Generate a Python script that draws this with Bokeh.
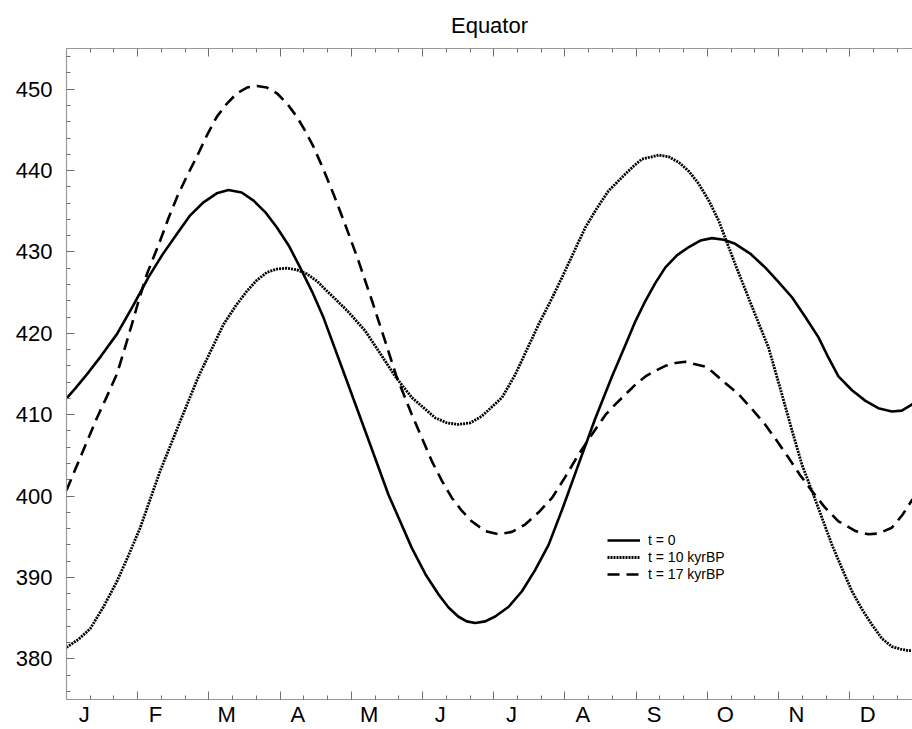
from bokeh.plotting import figure
from bokeh.models import (Range1d, LinearAxis, FixedTicker, CustomJSTickFormatter,
                          Legend, LegendItem)
from bokeh.embed import file_html
from bokeh.resources import INLINE

FONT = "Liberation Sans"

title_text = "Equator"

# Month labels (placed a quarter month after each month boundary)
month_labels = ["J", "F", "M", "A", "M", "J", "J", "A", "S", "O", "N", "D"]
month_label_pos = [0.25, 1.25, 2.25, 3.25, 4.25, 5.25, 6.25, 7.25, 8.25, 9.25, 10.25, 11.25]
month_bounds = [0, 1, 2, 3, 4, 5, 6, 7, 8, 9, 10, 11]
month_minor = [k + f for k in range(12) for f in (1 / 3, 2 / 3)]

y_major = [380, 390, 400, 410, 420, 430, 440, 450]
y_minor = [376, 378, 382, 384, 386, 388, 392, 394, 396, 398, 402, 404, 406, 408,
           412, 414, 416, 418, 422, 424, 426, 428, 432, 434, 436, 438, 442, 444,
           446, 448, 452, 454]

# t = 0 (solid)
m_t0 = [0.0, 0.13, 0.263, 0.485, 0.708, 0.93, 1.152, 1.35, 1.55, 1.737, 1.924,
        2.11, 2.275, 2.46, 2.627, 2.79, 2.955, 3.12, 3.28, 3.45, 3.61, 3.914, 4.195,
        4.52, 4.85, 5.04, 5.225, 5.365, 5.5, 5.62, 5.74, 5.88, 6.02, 6.21, 6.396,
        6.58, 6.77, 6.98, 7.19, 7.42, 7.66, 7.85, 7.99, 8.13, 8.27, 8.41, 8.575,
        8.74, 8.9, 9.065, 9.23, 9.39, 9.6, 9.81, 10.0, 10.19, 10.375, 10.56, 10.7,
        10.84, 11.03, 11.22, 11.4, 11.59, 11.73, 11.88]
v_t0 = [412.0, 413.3, 414.7, 417.2, 419.9, 423.3, 426.9, 429.7, 432.2, 434.5, 436.1,
        437.2, 437.6, 437.3, 436.3, 434.9, 433.0, 430.8, 428.1, 425.1, 421.9, 414.7, 408.0,
        400.2, 393.6, 390.4, 387.9, 386.3, 385.2, 384.6, 384.4, 384.6, 385.2, 386.4, 388.3,
        390.9, 394.0, 398.8, 403.9, 409.4, 414.7, 418.6, 421.5, 424.0, 426.2, 428.1, 429.6,
        430.6, 431.4, 431.7, 431.5, 431.0, 429.8, 428.1, 426.3, 424.4, 422.0, 419.5, 417.0,
        414.7, 413.0, 411.7, 410.8, 410.4, 410.5, 411.3]

# t = 10 kyrBP (dotted)
m_t10 = [0.0, 0.17, 0.333, 0.52, 0.708, 0.87, 1.035, 1.316, 1.597, 1.854, 2.205,
         2.37, 2.534, 2.67, 2.815, 2.955, 3.096, 3.236, 3.376, 3.52, 3.657, 3.8, 3.95,
         4.195, 4.4, 4.616, 4.85, 5.18, 5.34, 5.5, 5.67, 5.83, 6.115, 6.3, 6.46, 6.63,
         6.8, 6.96, 7.285, 7.45, 7.61, 7.85, 7.97, 8.08, 8.315, 8.455, 8.6, 8.74,
         8.876, 9.02, 9.16, 9.39, 9.63, 9.86, 10.03, 10.19, 10.33, 10.47, 10.61, 10.75,
         10.89, 11.03, 11.17, 11.31, 11.45, 11.59, 11.71, 11.83, 11.88]
v_t10 = [381.4, 382.4, 383.7, 386.4, 389.5, 392.7, 396.1, 403.1, 409.2, 414.7, 421.1,
         423.3, 425.2, 426.5, 427.5, 427.9, 428.0, 427.8, 427.3, 426.4, 425.2, 424.0, 422.7,
         420.3, 417.6, 414.7, 412.1, 409.6, 409.0, 408.8, 409.0, 409.8, 412.1, 414.9, 417.9, 421.1,
         424.0, 426.9, 433.0, 435.4, 437.5, 439.6, 440.6, 441.4, 441.9, 441.7, 441.0, 439.9,
         438.4, 436.3, 433.8, 428.5, 423.2, 418.2, 413.0, 408.0, 403.8, 400.6, 397.3, 394.0,
         391.1, 388.3, 386.1, 384.2, 382.5, 381.5, 381.2, 381.0, 381.0]

# t = 17 kyrBP (dashed)
m_t17 = [0.0, 0.192, 0.427, 0.56, 0.708, 0.81, 0.918, 1.02, 1.13, 1.316, 1.43, 1.55,
         1.69, 1.83, 1.97, 2.11, 2.25, 2.393, 2.534, 2.674, 2.815, 2.955, 3.1, 3.236,
         3.35, 3.47, 3.61, 3.75, 3.95, 4.1, 4.29, 4.476, 4.63, 4.85, 5.13, 5.27, 5.41,
         5.55, 5.69, 5.88, 6.07, 6.255, 6.44, 6.63, 6.82, 7.0, 7.19, 7.38, 7.57, 7.71,
         7.85, 7.99, 8.13, 8.27, 8.41, 8.55, 8.69, 8.97, 9.065, 9.25, 9.44, 9.625,
         9.81, 9.975, 10.14, 10.3, 10.47, 10.65, 10.84, 11.08, 11.26, 11.4, 11.59,
         11.74, 11.88]
v_t17 = [400.7, 404.7, 409.6, 412.1, 415.0, 417.9, 421.1, 424.2, 427.3, 431.4, 434.1, 436.7,
         439.3, 441.7, 444.3, 446.6, 448.2, 449.5, 450.2, 450.4, 450.2, 449.5, 448.2, 446.6,
         444.9, 442.9, 440.1, 437.1, 432.5, 428.9, 424.0, 419.0, 414.8, 410.0, 404.3, 401.9, 399.8,
         398.2, 396.9, 395.7, 395.3, 395.6, 396.5, 398.0, 399.8, 402.3, 405.1, 407.6, 410.0, 411.3,
         412.5, 413.7, 414.7, 415.4, 416.0, 416.35, 416.5, 415.9, 415.3, 413.9, 412.5, 410.7,
         408.8, 406.8, 404.7, 402.6, 400.6, 398.6, 396.9, 395.7, 395.3, 395.4, 396.1,
         397.7, 399.6]

series_labels = ["t = 0", "t = 10 kyrBP", "t = 17 kyrBP"]

AXIS_COLOR = "#9a9a9a"
TICK_COLOR = "#6e6e6e"

p = figure(width=912, height=729, output_backend="svg", toolbar_location=None,
           x_range=Range1d(0, 11.88), y_range=Range1d(375, 455),
           x_axis_location=None, y_axis_location=None,
           min_border_left=66, min_border_right=0, min_border_top=47,
           min_border_bottom=30, background_fill_color="white",
           border_fill_color="white")
p.outline_line_color = None
p.outline_line_alpha = 0
p.grid.visible = False

p.title.text = title_text
p.title.align = "center"
p.title.text_font = FONT
p.title.text_font_size = "22px"
p.title.text_font_style = "normal"
p.title.text_color = "black"
p.title.standoff = 21

empty_fmt = CustomJSTickFormatter(code="return ''")

def tick_axis(ticker):
    return LinearAxis(ticker=ticker, formatter=empty_fmt,
                      major_tick_in=8, major_tick_out=0,
                      minor_tick_in=4, minor_tick_out=0,
                      major_label_text_font_size="0px", major_label_standoff=0,
                      axis_line_color=AXIS_COLOR, axis_line_width=1.2,
                      major_tick_line_color=TICK_COLOR, major_tick_line_width=1,
                      minor_tick_line_color=TICK_COLOR, minor_tick_line_width=1)

# Left axis with labels
left = LinearAxis(ticker=FixedTicker(ticks=y_major, minor_ticks=y_minor),
                  major_tick_in=8, major_tick_out=0, minor_tick_in=4, minor_tick_out=0,
                  major_label_text_font=FONT, major_label_text_font_size="22px",
                  major_label_text_color="black", major_label_standoff=14,
                  axis_line_color=AXIS_COLOR, axis_line_width=1.2,
                  major_tick_line_color=TICK_COLOR, major_tick_line_width=1,
                  minor_tick_line_color=TICK_COLOR, minor_tick_line_width=1)
p.add_layout(left, "left")

# Top axis: ticks only
p.add_layout(tick_axis(FixedTicker(ticks=month_bounds, minor_ticks=month_minor)), "above")

# Bottom axis: ticks only
p.add_layout(tick_axis(FixedTicker(ticks=month_bounds, minor_ticks=month_minor)), "below")

# Bottom labels (month letters)
bottom_labels = LinearAxis(ticker=FixedTicker(ticks=month_label_pos, minor_ticks=[]),
                           major_label_overrides={pos: lab for pos, lab in zip(month_label_pos, month_labels)},
                           major_tick_line_color=None, minor_tick_line_color=None,
                           axis_line_color=None, major_tick_in=0, major_tick_out=0,
                           major_label_standoff=2, major_label_text_font=FONT,
                           major_label_text_font_size="22px", major_label_text_color="black")
p.add_layout(bottom_labels, "below")

r0 = p.line(m_t0, v_t0, line_color="black", line_width=2.6, line_join="round")
r10 = p.line(m_t10, v_t10, line_color="black", line_width=2.8, line_dash="2 1", line_join="round")
r17 = p.line(m_t17, v_t17, line_color="black", line_width=2.6, line_dash="12 7", line_join="round")

legend = Legend(items=[LegendItem(label=series_labels[0], renderers=[r0]),
                       LegendItem(label=series_labels[1], renderers=[r10]),
                       LegendItem(label=series_labels[2], renderers=[r17])],
                location=(541, 117), orientation="vertical",
                padding=0, margin=0, spacing=1,
                glyph_width=33, glyph_height=16, label_height=16,
                label_standoff=8, label_text_font=FONT, label_text_font_size="14px",
                label_text_color="black",
                border_line_color=None, background_fill_alpha=0)
p.add_layout(legend)

open("out.html", "w").write(file_html(p, INLINE))
